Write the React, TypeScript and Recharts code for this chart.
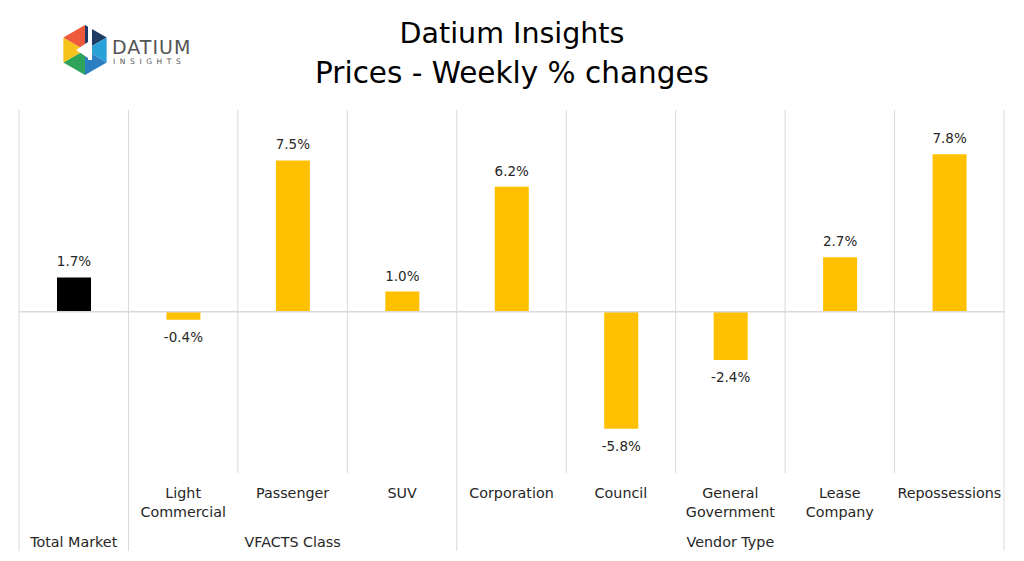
import { BarChart, Bar, XAxis, YAxis, Cell, LabelList, ReferenceLine } from "recharts";

const categories = ["", "Light\nCommercial", "Passenger", "SUV", "Corporation", "Council", "General\nGovernment", "Lease\nCompany", "Repossessions"];
const weeklyChange = [1.7, -0.4, 7.5, 1.0, 6.2, -5.8, -2.4, 2.7, 7.8];
const groupLabels = ["Total Market", "VFACTS Class", "Vendor Type"];
const groupSizes = [1, 3, 5];

const W = 1024;
const H = 561;
const M = { top: 110, right: 20, left: 19, bottom: 0 };
const AXIS_H = 88;
const PLOT_BOTTOM = H - AXIS_H;
const BAND = (W - M.left - M.right) / categories.length;
const FONT = "'DejaVu Sans', sans-serif";
const GRID = "#d9d9d9";
const TEXT = "#262626";

const data = categories.map((name, i) => ({ name, value: weeklyChange[i] }));

// index where each group starts
const groupStarts = groupSizes.map((_, g) => groupSizes.slice(0, g).reduce((a, b) => a + b, 0));

function CategoryTick(props: any) {
  const { x, payload, index } = props;
  const half = payload?.offset || BAND / 2;
  const left = x - half;
  const g = groupStarts.indexOf(index);
  const isLast = index === categories.length - 1;
  const lines = String(payload.value).split("\n");
  return (
    <g>
      <line x1={left} x2={left} y1={M.top} y2={g >= 0 ? 551 : PLOT_BOTTOM} stroke={GRID} strokeWidth={1} />
      {isLast && <line x1={x + half} x2={x + half} y1={M.top} y2={551} stroke={GRID} strokeWidth={1} />}
      {lines.map((t, i) => (
        <text key={i} x={x} y={498 + i * 19} textAnchor="middle" fontSize={14.3} fontFamily={FONT} fill={TEXT}>
          {t}
        </text>
      ))}
      {g >= 0 && (
        <text x={left + groupSizes[g] * half} y={547} textAnchor="middle" fontSize={14.3} fontFamily={FONT} fill={TEXT}>
          {groupLabels[g]}
        </text>
      )}
    </g>
  );
}

function ValueLabel(props: any) {
  const { x, y, width, height, value } = props;
  const top = Math.min(y, y + height);
  const bottom = Math.max(y, y + height);
  const cy = value < 0 ? bottom + 22 : top - 11;
  return (
    <text x={x + width / 2} y={cy} textAnchor="middle" fontSize={13.5} fontFamily={FONT} fill={TEXT}>
      {value.toFixed(1)}%
    </text>
  );
}

function Logo() {
  const cx = 85;
  const cy = 50;
  const r = 25;
  const pts = Array.from({ length: 6 }, (_, i) => {
    const a = (Math.PI / 3) * i - Math.PI / 2;
    return [cx + r * Math.cos(a), cy + r * Math.sin(a)];
  });
  const colors = ["#1f3b63", "#2aa1d8", "#2b7fc1", "#2ea35a", "#f6c21c", "#ee5a3a"];
  return (
    <g>
      {pts.map((p, i) => {
        const q = pts[(i + 1) % 6];
        return <polygon key={i} points={`${cx},${cy} ${p[0]},${p[1]} ${q[0]},${q[1]}`} fill={colors[i]} />;
      })}
      <polygon points={`${cx - 9},${cy} ${cx + 3},${cy - 8} ${cx + 3},${cy + 8}`} fill="#fff" />
      <rect x={cx + 3} y={cy - 26} width={4} height={36} fill="#fff" />
      <text x={112} y={54} fontSize={19} fontFamily={FONT} fill="#555" letterSpacing={1}>DATIUM</text>
      <text x={113} y={64} fontSize={7.5} fontFamily={FONT} fill="#555" letterSpacing={4.6}>INSIGHTS</text>
    </g>
  );
}

export default function App() {
  return (
    <div style={{ position: "absolute", left: 0, top: 0, width: W, height: H, background: "#fff" }}>
      <svg width={W} height={H} style={{ position: "absolute", left: 0, top: 0 }}>
        <Logo />
        <text x={512} y={43} textAnchor="middle" fontSize={28.5} fontFamily={FONT} fill="#000">Datium Insights</text>
        <text x={512} y={83} textAnchor="middle" fontSize={29.5} fontFamily={FONT} fill="#000">Prices - Weekly % changes</text>
      </svg>
      <div style={{ position: "absolute", left: 0, top: 0 }}>
        <BarChart width={W} height={H} data={data} margin={M} barSize={34}>
          <XAxis dataKey="name" height={AXIS_H} interval={0} axisLine={false} tickLine={false} tick={<CategoryTick />} />
          <YAxis hide domain={[-8, 10]} />
          <ReferenceLine y={0} stroke={GRID} strokeWidth={1.5} />
          <Bar dataKey="value" isAnimationActive={false}>
            {data.map((_, i) => (
              <Cell key={i} fill={i === 0 ? "#000000" : "#ffc000"} />
            ))}
            <LabelList dataKey="value" content={<ValueLabel />} />
          </Bar>
        </BarChart>
      </div>
    </div>
  );
}
